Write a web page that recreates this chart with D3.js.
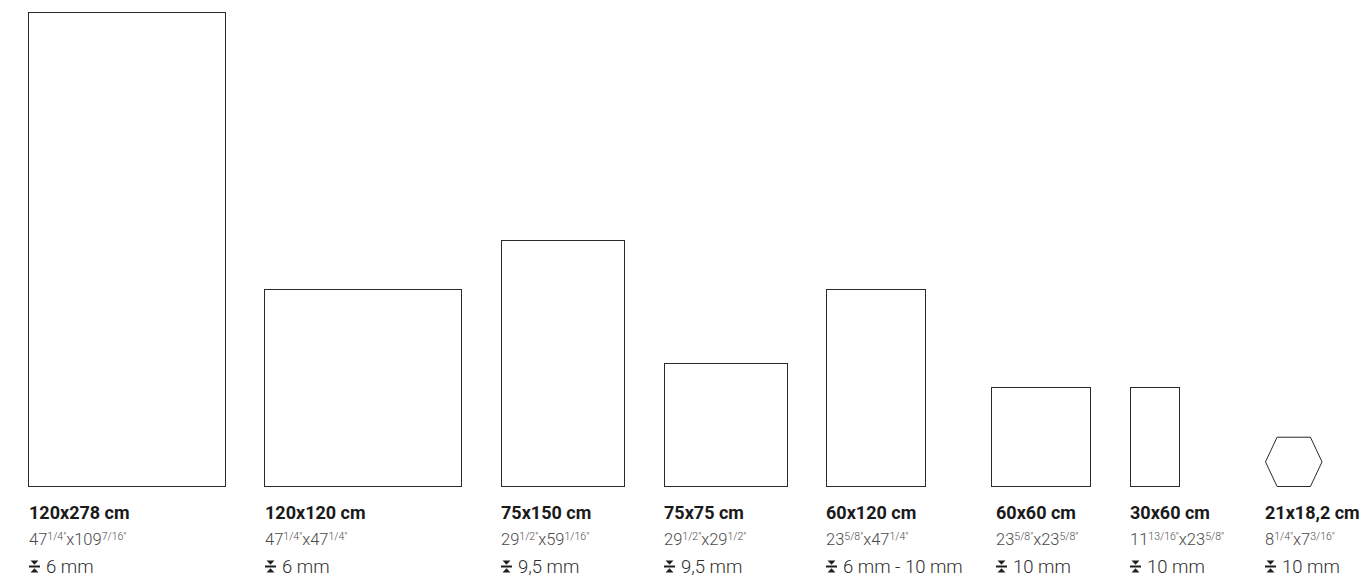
<!DOCTYPE html>
<html>
<head>
<meta charset="utf-8">
<script src="https://cdn.jsdelivr.net/npm/d3@7"></script>
<style>
  body { margin: 0; background: #fff; }
  svg { display: block; }
  .size { font-family: Roboto, sans-serif; font-weight: 700; font-size: 18px; fill: #1a1a1a; }
  .inch { font-family: Roboto, sans-serif; font-weight: 300; font-size: 16.5px; fill: #4a4a4a; }
  .inch .sup { font-size: 10.5px; }
  .thick { font-family: Roboto, sans-serif; font-weight: 300; font-size: 18.5px; fill: #2e2e2e; }
</style>
</head>
<body>
<svg id="chart" width="1362" height="580"></svg>
<script>
// tile formats
const sizes = ['120x278 cm', '120x120 cm', '75x150 cm', '75x75 cm', '60x120 cm', '60x60 cm', '30x60 cm', '21x18,2 cm']
const shapes = ['rect', 'rect', 'rect', 'rect', 'rect', 'rect', 'rect', 'hex']
// drawn size of each outline, in cm on the sketch scale
const shapeW = [120, 120, 75, 75, 60, 60, 30, 34.4]
const shapeH = [288.5, 120, 150, 75, 120, 60, 60, 30]
// inch sizes: [whole, fraction] x [whole, fraction]
const inchW = [['47', '1/4'], ['47', '1/4'], ['29', '1/2'], ['29', '1/2'], ['23', '5/8'], ['23', '5/8'], ['11', '13/16'], ['8', '1/4']]
const inchH = [['109', '7/16'], ['47', '1/4'], ['59', '1/16'], ['29', '1/2'], ['47', '1/4'], ['23', '5/8'], ['23', '5/8'], ['7', '3/16']]
const thickness = ['6 mm', '6 mm', '9,5 mm', '9,5 mm', '6 mm - 10 mm', '10 mm', '10 mm', '10 mm']

// layout
const colLeft = [28.5, 264.5, 501.5, 664.5, 826.5, 991.5, 1130.5, 1265.5]
const labelLeft = [29, 265, 501, 664, 826, 996, 1130, 1265]
const baseY = 486.5

let svg = d3.select('#chart')

let cm = d3.scaleLinear().domain([0, 100]).range([0, 164.3])
let xCol = d3.scaleOrdinal().domain(sizes).range(colLeft)
let xLabel = d3.scaleOrdinal().domain(sizes).range(labelLeft)

let data = sizes.map((s, i) => ({
  name: s,
  shape: shapes[i],
  w: shapeW[i],
  h: shapeH[i],
  iw: inchW[i],
  ih: inchH[i],
  t: thickness[i]
}))

let col = svg.selectAll('g.col')
  .data(data)
  .enter().append('g')
    .attr('class', 'col')

// outlines
col.filter((d) => d.shape === 'rect')
  .append('rect')
    .attr('x', (d) => xCol(d.name))
    .attr('y', (d) => baseY - Math.round(cm(d.h)))
    .attr('width', (d) => Math.round(cm(d.w)))
    .attr('height', (d) => Math.round(cm(d.h)))
    .attr('fill', 'none')
    .attr('stroke', '#2a2a2a')
    .attr('stroke-width', 1)

col.filter((d) => d.shape === 'hex')
  .append('path')
    .attr('d', (d) => {
      let x0 = xCol(d.name)
      let w = cm(d.w)
      let h = cm(d.h)
      let inset = w * 0.205
      let pts = [[x0, baseY - h / 2], [x0 + inset, baseY - h], [x0 + w - inset, baseY - h],
        [x0 + w, baseY - h / 2], [x0 + w - inset, baseY], [x0 + inset, baseY]]
      return d3.line()(pts) + 'Z'
    })
    .attr('fill', 'none')
    .attr('stroke', '#2a2a2a')
    .attr('stroke-width', 1)

// size in cm
col.append('text')
  .attr('class', 'size')
  .attr('x', (d) => xLabel(d.name))
  .attr('y', 519)
  .text((d) => d.name)

// size in inches with raised fractions
let inch = col.append('text')
  .attr('class', 'inch')
  .attr('x', (d) => xLabel(d.name))
  .attr('y', 545)

inch.append('tspan').text((d) => d.iw[0])
inch.append('tspan').attr('class', 'sup').attr('dy', -5).text((d) => d.iw[1] + '\u2033')
inch.append('tspan').attr('dy', 5).text((d) => 'x' + d.ih[0])
inch.append('tspan').attr('class', 'sup').attr('dy', -5).text((d) => d.ih[1] + '\u2033')

// thickness icon
let icon = col.append('g')
  .attr('transform', (d) => 'translate(' + xLabel(d.name) + ',560.5)')
  .attr('fill', '#1e1e1e')
icon.append('path').attr('d', 'M1.5,0 L9.5,0 L5.5,4.2 Z')
icon.append('rect').attr('x', 0).attr('y', 5).attr('width', 11).attr('height', 2)
icon.append('path').attr('d', 'M5.5,7.8 L9.5,12 L1.5,12 Z')

col.append('text')
  .attr('class', 'thick')
  .attr('x', (d) => xLabel(d.name) + 17)
  .attr('y', 572.5)
  .text((d) => d.t)
</script>
</body>
</html>
